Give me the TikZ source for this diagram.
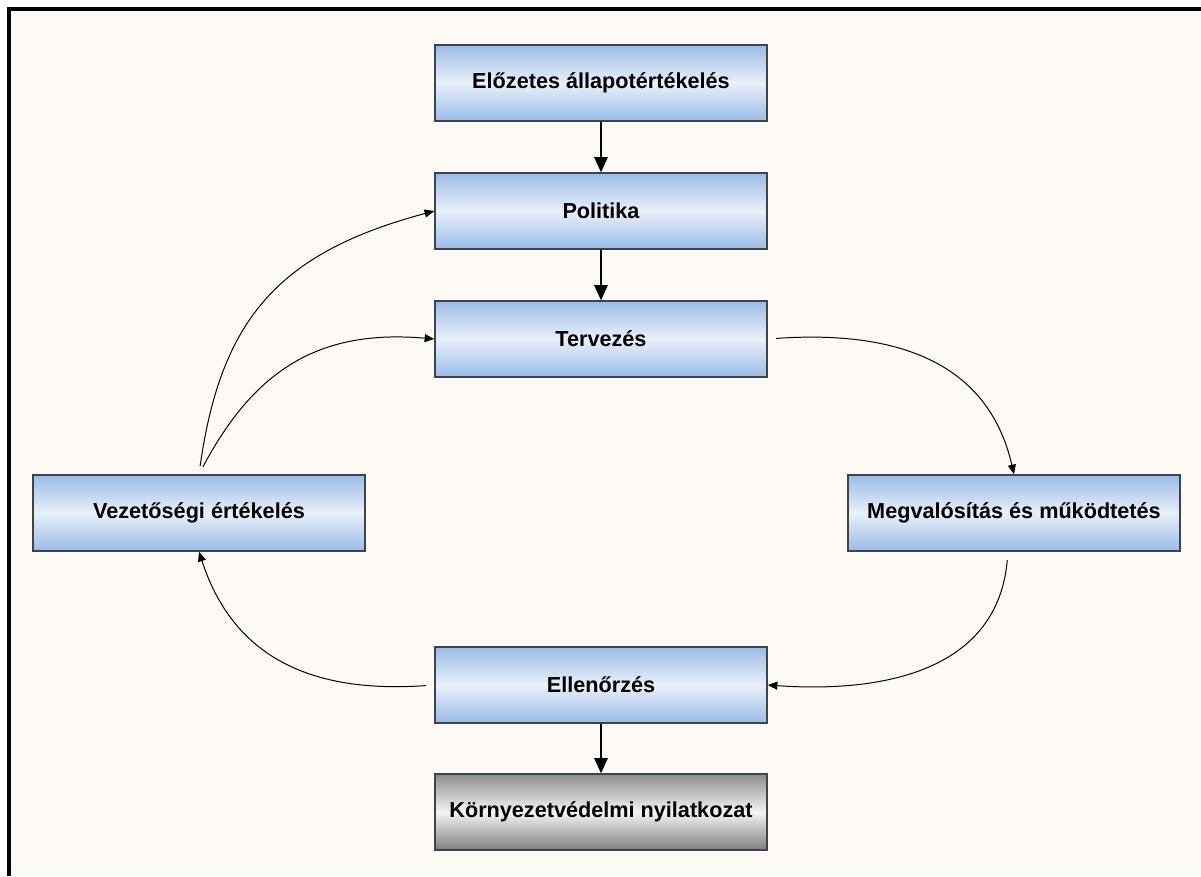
\documentclass[tikz,border=0pt]{standalone}
\usepackage{fontspec}
\setmainfont{Liberation Sans}
\usetikzlibrary{arrows.meta}
\definecolor{cpaper}{HTML}{FDF9F4}
\definecolor{cblue}{HTML}{9BBBE5}
\definecolor{cbluel}{HTML}{E9F0F9}
\definecolor{cgreyd}{HTML}{8C8C8C}
\definecolor{cgreyl}{HTML}{F4F4F4}
\definecolor{cedge}{HTML}{3C4450}
\tikzset{
  every picture/.style={line width=0.8pt},
  box/.style={draw=cedge, line width=1.1pt, minimum width=8.3cm, minimum height=1.9cm,
    inner sep=0pt, font=\bfseries\fontsize{15.4}{18}\selectfont,
    top color=cblue, bottom color=cblue, middle color=cbluel},
  greybox/.style={box, top color=cgreyd, bottom color=cgreyd!90!black, middle color=cgreyl},
  arrow/.style={-{Triangle[length=3.8mm, width=3.4mm]}, line width=1pt},
  loop/.style={-{Triangle[length=2.4mm, width=2mm]}, line width=0.7pt},
}

\begin{document}
\begin{tikzpicture}
  \useasboundingbox (0,0) rectangle (30.025,-21.9);
  % paper and the frame on the top and left
  \fill[cpaper] (0.25,-0.25) rectangle (30.025,-21.9);
  \draw[line width=2.6pt] (0.22,-21.9) -- (0.22,-0.22) -- (30.025,-0.22);

  \node[box] (pre) at (15.025,-2.075) {Előzetes állapotértékelés};
  \node[box] (pol) at (15.025,-5.275) {Politika};
  \node[box] (terv) at (15.025,-8.475) {Tervezés};
  \node[box] (vez) at (4.975,-12.825) {Vezetőségi értékelés};
  \node[box] (meg) at (25.35,-12.825) {Megvalósítás és működtetés};
  \node[box] (ell) at (15.025,-17.125) {Ellenőrzés};
  \node[greybox] (korny) at (15.025,-20.3) {Környezetvédelmi nyilatkozat};

  \draw[arrow] (pre) -- (pol);
  \draw[arrow] (pol) -- (terv);
  \draw[arrow] (ell) -- (korny);

  % the improvement loop
  \draw[loop, shorten <=6pt] (terv.east) to[out=4, in=103, looseness=1.1] (meg.north);
  \draw[loop, shorten <=6pt] ([xshift=-1.5mm]meg.south) to[out=-95, in=-4, looseness=1.1] (ell.east);
  \draw[loop, shorten <=6pt] (ell.west) to[out=184, in=-72, looseness=1.1] (vez.south);
  \draw[loop, shorten <=6pt] (vez.north) to[out=82, in=195, looseness=1.15] (pol.west);
  \draw[loop, shorten <=6pt] (vez.north) to[out=62, in=175, looseness=1.1] (terv.west);
\end{tikzpicture}
\end{document}
